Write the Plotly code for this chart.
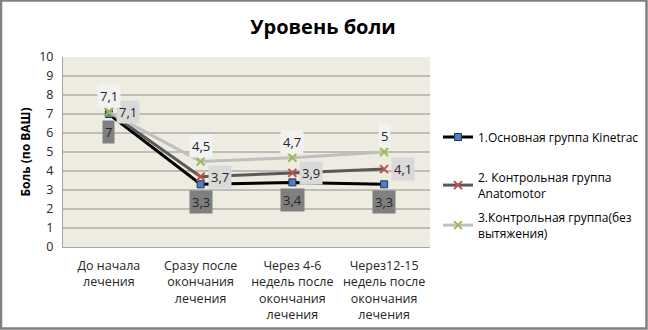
import plotly.graph_objects as go

# Pain level (VAS) by treatment stage for three patient groups
categories = [
    "До начала<br>лечения",
    "Сразу после<br>окончания<br>лечения",
    "Через 4-6<br>недель после<br>окончания<br>лечения",
    "Через12-15<br>недель после<br>окончания<br>лечения",
]
kinetrac = [7, 3.3, 3.4, 3.3]
anatomotor = [7.1, 3.7, 3.9, 4.1]
no_traction = [7.1, 4.5, 4.7, 5]

series_names = [
    "1.Основная группа Kinetrac",
    "2. Контрольная группа<br>Anatomotor",
    "3.Контрольная группа(без<br>вытяжения)",
]
y_ticks = list(range(0, 11))

FONT = "Open Sans"
W, H = 648, 330
L, R, T, B = 63, 218, 57, 83
PW, PH = W - L - R, H - T - B

def px_x(p):
    return (p - L) / PW

def px_y(p):
    return (H - B - p) / PH

def fmt(v):
    return (f"{v:g}").replace(".", ",")

fig = go.Figure()

styles = [
    dict(values=kinetrac, line="#000000", marker=dict(symbol="square", size=7, color="#4F81BD",
                                                     line=dict(color="#17375E", width=1)),
         legend="legend"),
    dict(values=anatomotor, line="#595959", marker=dict(symbol="x-thin", size=8, color="#C0504D",
                                                       line=dict(color="#C0504D", width=2)),
         legend="legend2"),
    dict(values=no_traction, line="#BFBFBF", marker=dict(symbol="x-thin", size=8, color="#9BBB59",
                                                        line=dict(color="#9BBB59", width=2)),
         legend="legend3"),
]

for name, st in zip(series_names, styles):
    fig.add_trace(go.Scatter(
        x=categories, y=st["values"], name=name, mode="lines+markers",
        line=dict(color=st["line"], width=3), marker=st["marker"],
        legend=st["legend"], cliponaxis=False, showlegend=True,
    ))

# Data labels: group 1 below, group 2 to the right, group 3 above
label_styles = [
    (kinetrac, "#7F7F7F", 0, -18),
    (anatomotor, "#D9D9D9", 19, 0),
    (no_traction, "#F2F2F2", 0, 16),
]
for vals, bg, dx, dy in label_styles:
    for c, v in zip(categories, vals):
        fig.add_annotation(
            x=c, y=v, text=fmt(v), showarrow=False, xanchor="center", yanchor="middle",
            xshift=dx, yshift=dy, bgcolor=bg, borderpad=2,
            font=dict(family=FONT, size=13, color="#262626"),
        )

# Outer chart frame
fig.add_shape(type="rect", xref="paper", yref="paper",
              x0=px_x(1), x1=px_x(646.5), y0=px_y(328.5), y1=px_y(0.5),
              line=dict(color="#808080", width=2.5), fillcolor="rgba(0,0,0,0)", layer="below")

legend_common = dict(xanchor="left", yanchor="middle", bgcolor="rgba(0,0,0,0)",
                     font=dict(family=FONT, size=12, color="#000000"), itemwidth=30)

fig.update_layout(
    width=W, height=H,
    margin=dict(l=L, r=R, t=T, b=B, autoexpand=False),
    paper_bgcolor="#FFFFFF",
    plot_bgcolor="#EEECE1",
    showlegend=True,
    title=dict(text="<b>Уровень боли</b>", xref="container", yref="container",
               x=323 / W, xanchor="center", y=1 - 27 / H, yanchor="middle",
               font=dict(family=FONT, size=20, color="#000000")),
    xaxis=dict(showgrid=False, showline=True, linecolor="#A6A6A6", linewidth=1,
               tickfont=dict(family=FONT, size=12.5, color="#262626"), ticks="",
               ticklabelstandoff=7, automargin=False, range=[-0.5, 3.5]),
    yaxis=dict(range=[0, 10], tickvals=y_ticks, showgrid=True, gridcolor="#BDBDB5",
               gridwidth=1.5, zeroline=False, showline=True, linecolor="#A6A6A6", linewidth=1,
               tickfont=dict(family=FONT, size=12.5, color="#262626"), ticks="",
               ticklabelstandoff=6, automargin=False,
               title=dict(text="<b>Боль (по ВАШ)</b>", standoff=6,
                          font=dict(family=FONT, size=12, color="#000000"))),
    legend=dict(x=px_x(438), y=px_y(137), **legend_common),
    legend2=dict(x=px_x(438), y=px_y(185.5), **legend_common),
    legend3=dict(x=px_x(438), y=px_y(225.5), **legend_common),
)

fig.write_html("out.html")
